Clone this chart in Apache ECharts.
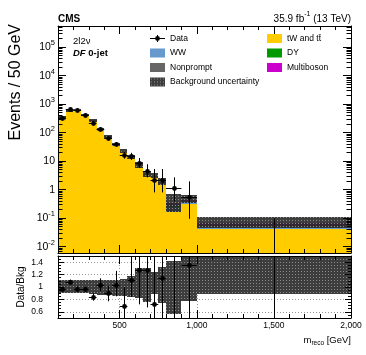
<!DOCTYPE html>
<html>
<head>
<meta charset="utf-8">
<title>m_reco, DF 0-jet</title>
<script src="https://cdn.jsdelivr.net/npm/echarts@6.0.0/dist/echarts.min.js"></script>
<style>
  html, body { margin: 0; padding: 0; background: #fff; }
  #chart { width: 366px; height: 355px; }
</style>
</head>
<body>
<div id="chart"></div>
<script>
var FONT = "'Liberation Sans', Arial, Helvetica, sans-serif";

// bins of m_reco [GeV]
var binLo = [100, 150, 200, 250, 300, 350, 400, 450, 500, 550, 600, 650, 700, 750, 800, 900, 1000];
var binHi = [150, 200, 250, 300, 350, 400, 450, 500, 550, 600, 650, 700, 750, 800, 900, 1000, 2000];

// data, events / 50 GeV, and the ends of its error bars
var dataVal  = [337, 660, 614, 409, 226, 132, 67, 40, 16.3, 14.6, 8.6, 4.4, 2.2, 2.2, 1.1, 0.57, 0];
var dataUp   = [356, 686, 639, 429, 241, 144, 76, 47, 21.5, 19.5, 12.8, 7.8, 5.3, 5.3, 2.7, 1.95, 0.1];
var dataDown = [318, 634, 589, 389, 211, 121, 59, 34, 12.2, 11, 5.8, 2.7, 0.8, 0.8, 0.39, 0.095, 0];

// backgrounds, events / 50 GeV (stacked bottom to top)
var ttbar      = [280, 573, 599, 400, 256, 121, 70, 36, 22, 12.9, 6.7, 3.3, 2.85, 1.78, 0.16, 0.32, 0.042];
var ww         = [15, 12, 10, 7, 4.5, 2.5, 1.5, 0.8, 0.45, 0.3, 0.15, 0.1, 0.08, 0.06, 0.08, 0.06, 0.008];
var dy         = [30, 4, 2, 1, 0.5, 0.2, 0.1, 0.05, 0.03, 0.02, 0.01, 0, 0, 0, 0.02, 0, 0];
var nonprompt  = [15, 20, 17, 11, 8, 4, 2.2, 1, 0.5, 0.25, 0.12, 0.08, 0.05, 0.04, 0.06, 0.03, 0.007];
var multiboson = [2, 1.5, 1.5, 1, 0.7, 0.4, 0.25, 0.15, 0.1, 0.06, 0.04, 0.03, 0.02, 0.02, 0.02, 0.02, 0.008];

// background uncertainty band, main panel
var bandLo = [310, 549, 567, 378, 240, 111, 64, 33, 20, 11.5, 5.8, 2.7, 2.6, 1.4, 0.17, 0.34, 0.045];
var bandHi = [385, 683, 699, 466, 300, 142, 82, 43, 26, 16.5, 9.0, 4.5, 3.75, 2.5, 0.72, 0.63, 0.107];

// ratio panel
var ratioVal  = [0.96, 1.08, 0.97, 0.97, 0.84, 1.03, 0.91, 1.04, 0.70, 1.12, 1.28, 1.28, 0.73, 1.14, 1.6, 1.36, null];
var ratioUp   = [1.00, 1.12, 1.01, 1.01, 0.90, 1.14, 1.02, 1.26, 1.00, 1.6, 1.9, 2.2, 1.8, 2.7, 4.0, 4.6, 3.0];
var ratioDown = [0.92, 1.04, 0.93, 0.93, 0.78, 0.93, 0.77, 0.85, 0.50, 0.84, 0.72, 0.67, 0.3, 0.45, 0.4, 0.22, 0];
var ratioBandLo = [0.90, 0.90, 0.90, 0.90, 0.89, 0.87, 0.87, 0.86, 0.86, 0.84, 0.83, 0.76, 0.88, 0.74, 0.57, 0.78, 0.89];
var ratioBandHi = [1.12, 1.12, 1.11, 1.11, 1.11, 1.11, 1.11, 1.12, 1.13, 1.18, 1.31, 1.31, 1.25, 1.32, 1.42, 1.6, 1.6];

// ticks
var xMajorTicks = [500, 1000, 1500, 2000];
var yDecades = [0.01, 0.1, 1, 10, 100, 1000, 10000, 100000];
var ratioTicks = [0.6, 0.8, 1, 1.2, 1.4];

var xMin = 100, xMax = 2000;
var yMin = 0.006, yMax = 5.5e5;
var rMin = 0.5, rMax = 1.5;

// minor ticks of the log axis: 2..9 in every decade
var yMinorTicks = [];
[0.001, 0.01, 0.1, 1, 10, 100, 1000, 10000, 100000].forEach(function (d) {
  for (var k = 2; k < 10; k++) {
    var v = d * k;
    if (v >= yMin && v <= yMax) yMinorTicks.push(v);
  }
});

// dark dotted fill for the uncertainty
function hatchPattern() {
  var c = document.createElement('canvas');
  c.width = 3; c.height = 3;
  var ctx = c.getContext('2d');
  ctx.fillStyle = 'rgba(40,40,40,0.9)';
  ctx.fillRect(0, 0, 3, 3);
  ctx.fillStyle = 'rgba(150,150,150,0.9)';
  ctx.fillRect(1, 1, 1, 1);
  return { image: c, repeat: 'repeat' };
}
var HATCH = hatchPattern();

function gridRect(params) {
  var cs = params.coordSys;
  return { x: cs.x, y: cs.y, width: cs.width, height: cs.height };
}

// a box per bin: [x0, x1, yLow, yHigh]
function rectRenderer(fill) {
  return function (params, api) {
    var a = api.coord([api.value(0), api.value(3)]);
    var b = api.coord([api.value(1), api.value(2)]);
    var x0 = Math.round(a[0]), x1 = Math.round(b[0]);
    var y0 = Math.round(a[1]), y1 = Math.round(b[1]);
    var r = echarts.graphic.clipRectByRect({ x: x0, y: y0, width: x1 - x0, height: y1 - y0 }, gridRect(params));
    if (!r || r.height <= 0 || r.width <= 0) return null;
    return { type: 'rect', shape: r, style: { fill: fill } };
  };
}

// data point: [xCenter, value, low, high, x0, x1]
function pointRenderer(params, api) {
  var g = gridRect(params);
  var top = g.y, bottom = g.y + g.height;
  var xc = api.value(0), v = api.value(1), lo = api.value(2), hi = api.value(3);
  function py(val) { return val > 0 ? api.coord([xc, val])[1] : bottom + 20; }
  var cx = Math.round(api.coord([xc, 1])[0]) + 0.5;
  var children = [];
  var yHi = Math.max(py(hi), top), yLo = Math.min(py(lo), bottom);
  if (yLo > yHi) {
    children.push({ type: 'line', shape: { x1: cx, y1: yHi, x2: cx, y2: yLo }, style: { stroke: '#000', lineWidth: 1 } });
  }
  if (v > 0) {
    var yv = py(v);
    if (yv >= top && yv <= bottom) {
      var xa = api.coord([api.value(4), 1])[0], xb = api.coord([api.value(5), 1])[0];
      yv = Math.round(yv) + 0.5;
      children.push({ type: 'line', shape: { x1: xa, y1: yv, x2: xb, y2: yv }, style: { stroke: '#000', lineWidth: 1 } });
      children.push({ type: 'circle', shape: { cx: cx, cy: yv, r: 2.4 }, style: { fill: '#000' } });
    }
  }
  return { type: 'group', children: children };
}

var series = [];

// stacked backgrounds
var layers = [
  { name: 'tW and t\u0074\u0304', values: ttbar, color: '#FFCC00' },
  { name: 'WW', values: ww, color: '#6699CC' },
  { name: 'DY', values: dy, color: '#009900' },
  { name: 'Nonprompt', values: nonprompt, color: '#666666' },
  { name: 'Multiboson', values: multiboson, color: '#CC00CC' }
];
var stackTop = binLo.map(function () { return 0; });
layers.forEach(function (layer) {
  var rows = [];
  binLo.forEach(function (lo, i) {
    var v = layer.values[i];
    var base = stackTop[i] > 0 ? stackTop[i] : yMin;
    stackTop[i] += v;
    if (v > 0) rows.push([lo, binHi[i], base, stackTop[i]]);
  });
  series.push({
    type: 'custom', name: layer.name, xAxisIndex: 0, yAxisIndex: 0, z: 1,
    itemStyle: { color: layer.color },
    encode: { x: [0, 1], y: [2, 3] },
    renderItem: rectRenderer(layer.color),
    data: rows
  });
});

series.push({
  type: 'custom', name: 'Background uncertainty', xAxisIndex: 0, yAxisIndex: 0, z: 2,
  itemStyle: { color: HATCH },
  encode: { x: [0, 1], y: [2, 3] },
  renderItem: rectRenderer(HATCH),
  data: binLo.map(function (lo, i) { return [lo, binHi[i], bandLo[i], bandHi[i]]; })
});

series.push({
  type: 'custom', name: 'Data', xAxisIndex: 0, yAxisIndex: 0, z: 3,
  itemStyle: { color: '#000' },
  encode: { x: [0, 4, 5], y: [1, 2, 3] },
  renderItem: pointRenderer,
  data: binLo.map(function (lo, i) {
    return [(lo + binHi[i]) / 2, dataVal[i], dataDown[i], dataUp[i], lo, binHi[i]];
  })
});

// ratio panel
series.push({
  type: 'custom', name: 'ratio band', xAxisIndex: 4, yAxisIndex: 4, z: 2,
  encode: { x: [0, 1], y: [2, 3] },
  renderItem: rectRenderer(HATCH),
  data: binLo.map(function (lo, i) { return [lo, binHi[i], ratioBandLo[i], ratioBandHi[i]]; })
});
series.push({
  type: 'custom', name: 'ratio', xAxisIndex: 4, yAxisIndex: 4, z: 3,
  encode: { x: [0, 4, 5], y: [1, 2, 3] },
  renderItem: pointRenderer,
  data: binLo.map(function (lo, i) {
    return [(lo + binHi[i]) / 2, ratioVal[i], ratioDown[i], ratioUp[i], lo, binHi[i]];
  })
});

var black = { color: '#000', width: 1 };

function makeXAxes(grid, withLabels) {
  var list = [];
  ['bottom', 'top'].forEach(function (pos) {
    list.push({
      type: 'value', gridIndex: grid, min: xMin, max: xMax, position: pos, interval: 100, z: 5,
      axisLine: { show: true, onZero: false, lineStyle: black },
      axisTick: { inside: true, length: 4, lineStyle: black },
      axisLabel: { show: false }, splitLine: { show: false }
    });
    var major = {
      type: 'value', gridIndex: grid, min: xMin, max: xMax, position: pos, z: 5,
      axisLine: { show: false },
      axisTick: { inside: true, length: 8, customValues: xMajorTicks, lineStyle: black },
      axisLabel: { show: false }, splitLine: { show: false }
    };
    if (withLabels && pos === 'bottom') {
      major.axisLabel = { show: true, customValues: xMajorTicks, margin: 3, fontSize: 8.5, color: '#000', fontFamily: FONT };
    }
    list.push(major);
  });
  return list;
}

function logLabel(value) {
  var e = Math.round(Math.log(value) / Math.LN10);
  if (e === 0) return '1';
  if (e === 1) return '10';
  return '10{s|' + e + '}';
}

var xAxes = makeXAxes(0, false).concat(makeXAxes(1, true));
// dotted grid of the ratio panel, under the band
xAxes.push({
  type: 'value', gridIndex: 1, min: xMin, max: xMax, position: 'bottom', z: 0,
  axisLine: { show: false }, axisLabel: { show: false },
  axisTick: { show: false, customValues: xMajorTicks },
  splitLine: { show: true, lineStyle: { color: '#999', type: [1, 2], width: 1 } }
});

var yAxes = [];
['left', 'right'].forEach(function (pos) {
  var major = {
    type: 'log', logBase: 10, gridIndex: 0, min: yMin, max: yMax, position: pos, z: 5,
    axisLine: { show: true, onZero: false, lineStyle: black },
    axisTick: { inside: true, length: 8, customValues: yDecades, lineStyle: black },
    axisLabel: { show: false }, splitLine: { show: false }
  };
  if (pos === 'left') {
    major.axisLabel = {
      show: true, customValues: yDecades, margin: 3, formatter: logLabel,
      fontSize: 10.5, lineHeight: 16, color: '#000', fontFamily: FONT,
      rich: { s: { fontSize: 7.5, lineHeight: 8, verticalAlign: 'top', color: '#000', fontFamily: FONT } }
    };
  }
  yAxes.push(major);
});
['left', 'right'].forEach(function (pos) {
  yAxes.push({
    type: 'log', logBase: 10, gridIndex: 0, min: yMin, max: yMax, position: pos, z: 5,
    axisLine: { show: false },
    axisTick: { inside: true, length: 4.5, customValues: yMinorTicks, lineStyle: black },
    axisLabel: { show: false }, splitLine: { show: false }
  });
});
['left', 'right'].forEach(function (pos) {
  yAxes.push({
    type: 'value', gridIndex: 1, min: rMin, max: rMax, interval: 0.05, position: pos, z: 5,
    axisLine: { show: true, onZero: false, lineStyle: black },
    axisTick: { inside: true, length: 3, lineStyle: black },
    axisLabel: { show: false }, splitLine: { show: false }
  });
  var major = {
    type: 'value', gridIndex: 1, min: rMin, max: rMax, position: pos, z: 5,
    axisLine: { show: false },
    axisTick: { inside: true, length: 6, customValues: ratioTicks, lineStyle: black },
    axisLabel: { show: false }, splitLine: { show: false }
  };
  if (pos === 'left') {
    major.axisLabel = {
      show: true, customValues: ratioTicks, margin: 15, fontSize: 8.5, color: '#000', fontFamily: FONT,
      formatter: function (v) { return String(Math.round(v * 10) / 10); }
    };
  }
  yAxes.push(major);
});
yAxes.push({
  type: 'value', gridIndex: 1, min: rMin, max: rMax, position: 'left', z: 0,
  axisLine: { show: false }, axisLabel: { show: false },
  axisTick: { show: false, customValues: ratioTicks },
  splitLine: { show: true, lineStyle: { color: '#999', type: [1, 2], width: 1 } }
});

var legendText = { fontSize: 8.5, color: '#000', fontFamily: FONT };
var dataIcon = 'path://M0,3 L15,3 L15,4 L0,4 Z M7,0 L8,0 L8,7 L7,7 Z M5.1,3.5 A2.4,2.4 0 1 1 9.9,3.5 A2.4,2.4 0 1 1 5.1,3.5 Z';

var chart = echarts.init(document.getElementById('chart'), null, { renderer: 'canvas' });
chart.setOption({
  animation: false,
  backgroundColor: '#fff',
  textStyle: { fontFamily: FONT, color: '#000' },
  grid: [
    { left: 58, top: 26, width: 293, height: 227, outerBoundsMode: 'none' },
    { left: 58, top: 256, width: 293, height: 62, outerBoundsMode: 'none' }
  ],
  xAxis: xAxes,
  yAxis: yAxes,
  legend: [
    {
      left: 150, top: 34, orient: 'vertical', padding: 0, itemWidth: 15, itemHeight: 9, itemGap: 5.5,
      selectedMode: false, textStyle: legendText,
      data: [
        { name: 'Data', icon: dataIcon },
        { name: 'WW', icon: 'rect' },
        { name: 'Nonprompt', icon: 'rect' },
        { name: 'Background uncertainty', icon: 'rect' }
      ]
    },
    {
      left: 267, top: 34, orient: 'vertical', padding: 0, itemWidth: 15, itemHeight: 9, itemGap: 5.5,
      selectedMode: false, textStyle: legendText,
      data: [
        { name: 'tW and t\u0074\u0304', icon: 'rect' },
        { name: 'DY', icon: 'rect' },
        { name: 'Multiboson', icon: 'rect' }
      ]
    }
  ],
  graphic: [
    { type: 'text', x: 58, y: 19, style: { text: 'CMS', fontSize: 10, fontWeight: 'bold', fontFamily: FONT, fill: '#000', verticalAlign: 'middle' } },
    {
      type: 'text', x: 351, y: 19,
      style: {
        text: '35.9 fb{sup|-1} (13 TeV)', fontSize: 10, lineHeight: 16, fontFamily: FONT, fill: '#000',
        align: 'right', verticalAlign: 'middle',
        rich: { sup: { fontSize: 7, lineHeight: 8, verticalAlign: 'top', fontFamily: FONT, fill: '#000' } }
      }
    },
    { type: 'text', x: 73, y: 41, style: { text: '2l2\u03bd', fontSize: 9.5, fontFamily: FONT, fill: '#000', verticalAlign: 'middle' } },
    {
      type: 'text', x: 73, y: 53,
      style: {
        text: '{i|DF} 0-jet', fontSize: 9.5, fontWeight: 'bold', fontFamily: FONT, fill: '#000', verticalAlign: 'middle',
        rich: { i: { fontSize: 9.5, fontWeight: 'bold', fontStyle: 'italic', fontFamily: FONT, fill: '#000' } }
      }
    },
    {
      type: 'text', x: 16, y: 24, rotation: Math.PI / 2,
      style: { text: 'Events / 50 GeV', fontSize: 16, fontFamily: FONT, fill: '#000', align: 'right', verticalAlign: 'middle' }
    },
    {
      type: 'text', x: 21, y: 287, rotation: Math.PI / 2,
      style: { text: 'Data/Bkg', fontSize: 10, fontFamily: FONT, fill: '#000', align: 'center', verticalAlign: 'middle' }
    },
    {
      type: 'text', x: 351, y: 340,
      style: {
        text: 'm{sub|reco} [GeV]', fontSize: 9.5, lineHeight: 14, fontFamily: FONT, fill: '#000',
        align: 'right', verticalAlign: 'middle',
        rich: { sub: { fontSize: 6.5, lineHeight: 8, verticalAlign: 'bottom', fontFamily: FONT, fill: '#000' } }
      }
    }
  ],
  series: series
});
</script>
</body>
</html>
